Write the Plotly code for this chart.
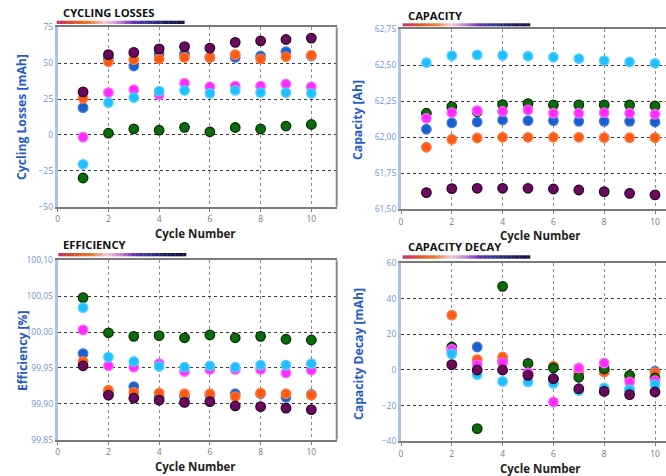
import plotly.graph_objects as go

cycles = [1, 2, 3, 4, 5, 6, 7, 8, 9, 10]
decay_cycles = [2, 3, 4, 5, 6, 7, 8, 9, 10]
series_names = ["Cell 1", "Cell 2", "Cell 3", "Cell 4", "Cell 5", "Cell 6"]

# order: blue, orange, green, magenta, light blue, purple
losses_blue = [19, 53.5, 48, 56.5, 56.5, 54, 54, 55, 58, 55]
losses_orange = [25.5, 51, 52.5, 53, 54, 54, 56, 53, 54.5, 55.5]
losses_green = [-30, 1.2, 4.2, 3.3, 5.3, 2.2, 5.2, 4.2, 6.2, 7.3]
losses_magenta = [-1.5, 29.5, 31.5, 28, 36, 33.5, 34, 34, 35.5, 33.5]
losses_lightblue = [-20.5, 22.5, 26, 30.5, 31, 29, 31, 29.5, 29.5, 29]
losses_purple = [30, 56, 57.5, 60, 61.5, 60.5, 64.5, 65.5, 66.5, 67.5]

cap_blue = [62.056, 62.100, 62.106, 62.120, 62.116, 62.116, 62.111, 62.111, 62.111, 62.106]
cap_orange = [61.931, 61.986, 61.995, 62.000, 62.000, 62.000, 62.000, 61.998, 61.997, 61.997]
cap_green = [62.167, 62.213, 62.178, 62.227, 62.234, 62.225, 62.225, 62.225, 62.225, 62.218]
cap_magenta = [62.132, 62.171, 62.185, 62.180, 62.190, 62.167, 62.167, 62.171, 62.167, 62.160]
cap_lightblue = [62.518, 62.567, 62.572, 62.569, 62.563, 62.556, 62.546, 62.532, 62.523, 62.514]
cap_purple = [61.616, 61.644, 61.646, 61.646, 61.646, 61.641, 61.634, 61.623, 61.611, 61.600]

eff_blue = [99.970, 99.915, 99.924, 99.910, 99.910, 99.912, 99.914, 99.914, 99.909, 99.913]
eff_orange = [99.959, 99.919, 99.916, 99.915, 99.914, 99.914, 99.910, 99.915, 99.914, 99.912]
eff_green = [100.048, 99.999, 99.994, 99.995, 99.992, 99.996, 99.992, 99.994, 99.990, 99.989]
eff_magenta = [100.003, 99.953, 99.951, 99.956, 99.945, 99.948, 99.948, 99.948, 99.943, 99.947]
eff_lightblue = [100.034, 99.965, 99.959, 99.952, 99.951, 99.953, 99.951, 99.954, 99.954, 99.956]
eff_purple = [99.953, 99.912, 99.908, 99.905, 99.902, 99.903, 99.897, 99.896, 99.894, 99.892]

decay_blue = [10.5, 12.9, 5.0, -3.0, -5.0, -2.0, -1.0, -11.0, -0.7]
decay_orange = [30.8, 5.8, 7.3, -2.0, 2.2, -0.7, -1.1, -5.0, -1.5]
decay_green = [12.9, -32.9, 46.9, 3.7, 1.1, -4.1, 0.7, -3.0, -4.5]
decay_magenta = [11.6, 3.0, 4.1, -1.5, -17.9, 1.1, 3.9, -6.7, -6.0]
decay_lightblue = [9.0, -2.6, -6.4, -6.7, -7.5, -11.6, -10.1, -11.0, -8.2]
decay_purple = [3.0, 0.0, 0.0, -3.0, -4.9, -10.5, -12.0, -13.8, -12.3]

colors = ["#1a5fd0", "#ff5a14", "#0b6b0b", "#ff2cff", "#1ec0ff", "#6a0a5e"]
outlines = ["#3f7ad8", "#ff7a40", "#062e06", "#ff66ff", "#58d0ff", "#2e0028"]

panels = [
    (cycles, [losses_blue, losses_orange, losses_green, losses_magenta, losses_lightblue, losses_purple]),
    (cycles, [cap_blue, cap_orange, cap_green, cap_magenta, cap_lightblue, cap_purple]),
    (cycles, [eff_blue, eff_orange, eff_green, eff_magenta, eff_lightblue, eff_purple]),
    (decay_cycles, [decay_blue, decay_orange, decay_green, decay_magenta, decay_lightblue, decay_purple]),
]

W, H = 666, 476
fig = go.Figure()

axes = ["", "2", "3", "4"]
for i, (xs, ys_list) in enumerate(panels):
    for j, ys in enumerate(ys_list):
        fig.add_trace(go.Scatter(
            x=xs, y=ys, mode="markers", name=series_names[j], showlegend=False,
            xaxis="x" + axes[i], yaxis="y" + axes[i], cliponaxis=False,
            marker=dict(size=9.5, color=colors[j], line=dict(color=outlines[j], width=1.3)),
        ))

def px_x(v):
    return v / W

def px_y(v):
    return 1 - v / H

domains = [
    # (x0, x1, ytop_px, ybottom_px, xrange_max)
    (57.7, 336.7, 27.3, 206.7, 11.0),
    (401.0, 666.0, 29.3, 209.3, (666 - 401) / 25.4),
    (57.7, 336.7, 260.3, 439.7, 11.0),
    (401.0, 666.0, 263.0, 441.3, (666 - 401) / 25.4),
]
yranges = [(-50, 75, 25, ".0f"), (61.5, 62.75, 0.25, ".2f"), (99.85, 100.10, 0.05, ".2f"), (-40, 60, 20, ".0f")]
ytitles = ["Cycling Losses [mAh]", "Capacity [Ah]", "Efficiency [%]", "Capacity Decay [mAh]"]
titles = ["CYCLING LOSSES", "CAPACITY", "EFFICIENCY", "CAPACITY DECAY"]
title_pos = [(61, 12), (406, 15), (61, 245), (406, 246)]
ytitle_pos = [(21, 117), (357, 120), (22, 351), (358, 354)]
xtitle_pos = [(196, 233), (540, 235), (196, 466), (540, 468)]
bar_pos = [(56.7, 184.3, 20.7, 24.0), (402.7, 530, 23.3, 26.3), (58.3, 186, 253, 256.3), (402.7, 530, 255.3, 258.7)]

layout = dict(
    width=W, height=H, margin=dict(l=0, r=0, t=0, b=0, autoexpand=False),
    paper_bgcolor="white", plot_bgcolor="white", separators=",.",
    font=dict(family="Open Sans", size=9),
)

shapes = []
annotations = []
for i in range(4):
    x0, x1, yt, yb, xmax = domains[i]
    lo, hi, dt, fmt = yranges[i]
    xa = "xaxis" + axes[i]
    ya = "yaxis" + axes[i]
    layout[xa] = dict(
        domain=[px_x(x0), px_x(x1)], range=[0, xmax], anchor="y" + axes[i], automargin=False,
        tickmode="array", tickvals=[0, 2, 4, 6, 8, 10],
        showgrid=True, gridcolor="#8a8a8a", griddash="dot", gridwidth=1,
        zeroline=False, showline=True, linecolor="#7a7a7a", linewidth=2, mirror=True,
        ticks="outside", ticklen=3, tickcolor="#7a7a7a",
        tickfont=dict(color="#7a7a7a", size=8.5, family="Open Sans"),
    )
    layout[ya] = dict(
        domain=[px_y(yb), px_y(yt)], range=[lo, hi], anchor="x" + axes[i], automargin=False,
        tick0=lo, dtick=dt, tickformat=fmt,
        showgrid=True, gridcolor="#3a3a3a", griddash="dot", gridwidth=1,
        zeroline=False, showline=True, linecolor="#a9c2ea", linewidth=3,
        ticks="", tickfont=dict(color="#6f93d8", size=8.5, family="Open Sans"),
    )
    if x1 < 660:
        shapes.append(dict(type="line", xref="x" + axes[i] + " domain", yref="y" + axes[i] + " domain",
                           x0=1, x1=1, y0=0, y1=1, line=dict(color="#8a8a8a", width=2)))
    tx, ty = title_pos[i]
    annotations.append(dict(text="<b>" + titles[i] + "</b>", xref="paper", yref="paper",
                            x=px_x(tx), y=px_y(ty), xanchor="left", yanchor="middle", showarrow=False,
                            font=dict(size=11.2, color="#111111", family="Open Sans")))
    yx, yy = ytitle_pos[i]
    annotations.append(dict(text="<b>" + ytitles[i] + "</b>", xref="paper", yref="paper",
                            x=px_x(yx), y=px_y(yy), xanchor="center", yanchor="middle", showarrow=False,
                            textangle=-90, font=dict(size=12.2, color="#1f5cc8", family="Open Sans")))
    xx, xy = xtitle_pos[i]
    annotations.append(dict(text="<b>Cycle Number</b>", xref="paper", yref="paper",
                            x=px_x(xx), y=px_y(xy), xanchor="center", yanchor="middle", showarrow=False,
                            font=dict(size=11.5, color="#222222", family="Open Sans")))
    bx0, bx1, by0, by1 = bar_pos[i]
    stops = [(0.0, (200, 40, 120)), (0.12, (225, 80, 40)), (0.25, (235, 120, 40)), (0.38, (242, 205, 220)),
             (0.5, (190, 120, 210)), (0.6, (100, 50, 175)), (0.72, (55, 55, 140)), (0.86, (30, 30, 90)), (1.0, (22, 22, 70))]
    n = 48
    for k in range(n):
        t = (k + 0.5) / n
        for s in range(len(stops) - 1):
            if stops[s][0] <= t <= stops[s + 1][0]:
                a = (t - stops[s][0]) / (stops[s + 1][0] - stops[s][0])
                c = tuple(int(stops[s][1][m] + a * (stops[s + 1][1][m] - stops[s][1][m])) for m in range(3))
                break
        sx0 = bx0 + (bx1 - bx0) * k / n
        sx1 = bx0 + (bx1 - bx0) * (k + 1) / n + 0.3
        shapes.append(dict(type="rect", xref="paper", yref="paper", x0=px_x(sx0), x1=px_x(sx1),
                           y0=px_y(by1), y1=px_y(by0), line=dict(width=0), fillcolor="rgb(%d,%d,%d)" % c, layer="above"))

layout["shapes"] = shapes
layout["annotations"] = annotations
fig.update_layout(**layout)
fig.write_html(
    "out.html",
    config={"displayModeBar": False},
    post_script="document.body.style.margin='0px';document.body.style.overflow='hidden';",
)
